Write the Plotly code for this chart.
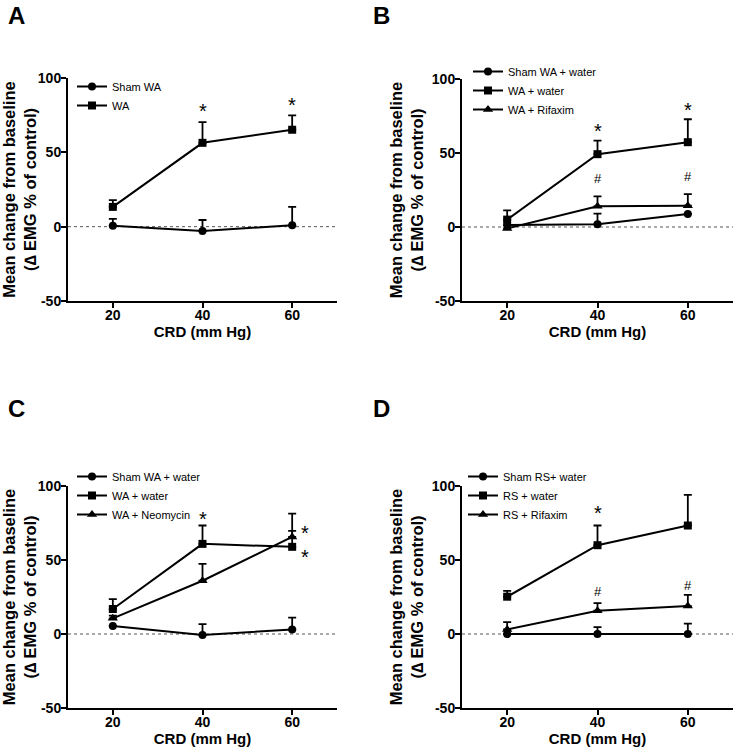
import plotly.graph_objects as go

crd = [20, 40, 60]

# panel A
a_names = ["Sham WA", "WA"]
a_sham = [0.7, -2.9, 0.9]
a_sham_err = [4.5, 7.4, 12.4]
a_wa = [13.3, 56.4, 65.2]
a_wa_err = [4.5, 13.9, 9.6]
a_marks = [(40, 78, "*"), (60, 82, "*")]

# panel B
b_names = ["Sham WA + water", "WA + water", "WA + Rifaxim"]
b_sham = [1.3, 1.8, 8.8]
b_sham_err = [0, 7.2, 0]
b_wa = [5.0, 49.2, 57.3]
b_wa_err = [6.2, 9.2, 15.5]
b_rif = [-1.0, 14.0, 14.4]
b_rif_err = [0, 6.7, 7.8]
b_marks = [(40, 65, "*"), (60, 79, "*"), (40, 33, "#"), (60, 34, "#")]

# panel C
c_names = ["Sham WA + water", "WA + water", "WA + Neomycin"]
c_sham = [5.4, -0.7, 3.1]
c_sham_err = [0, 7.4, 7.9]
c_wa = [16.9, 60.9, 58.9]
c_wa_err = [6.7, 12.4, 10.8]
c_neo = [10.6, 36.0, 65.6]
c_neo_err = [1.8, 11.4, 15.7]
c_marks = [(40, 78, "*"), (62.8, 68, "*"), (62.8, 52, "*")]

# panel D
d_names = ["Sham RS+ water", "RS + water", "RS + Rifaxim"]
d_sham = [0, 0, 0]
d_sham_err = [0, 4.7, 7.0]
d_rs = [25.2, 60.0, 73.3]
d_rs_err = [4.0, 13.3, 20.7]
d_rif = [3.1, 15.7, 18.9]
d_rif_err = [4.9, 5.2, 7.6]
d_marks = [(40, 82, "*"), (60, 101, "*"), (40, 29, "#"), (60, 33, "#")]

FONT = "Liberation Sans, Arial, sans-serif"
symbols = ["circle", "square", "triangle-up"]

panels = [
    ("A", a_names, [a_sham, a_wa], [a_sham_err, a_wa_err], a_marks),
    ("B", b_names, [b_sham, b_wa, b_rif], [b_sham_err, b_wa_err, b_rif_err], b_marks),
    ("C", c_names, [c_sham, c_wa, c_neo], [c_sham_err, c_wa_err, c_neo_err], c_marks),
    ("D", d_names, [d_sham, d_rs, d_rif], [d_sham_err, d_rs_err, d_rif_err], d_marks),
]

W, H = 735, 750
# pixel boxes of the plot areas: left, right, top, bottom
boxes = [(68, 337, 78, 301), (462, 733, 79, 301), (68, 337, 486, 708), (462, 733, 486, 708)]
letters_px = [(6, 0), (371, 0), (6, 393), (371, 393)]
legend_px = [(72, 72), (468, 57), (72, 462), (463, 462)]

fig = go.Figure()
layout = {}
for i, (letter, names, series, errs, marks) in enumerate(panels):
    n = "" if i == 0 else str(i + 1)
    xa, ya = "x" + n, "y" + n
    leg = "legend" + n
    l, r, t, b = boxes[i]
    for j, (nm, ys, es) in enumerate(zip(names, series, errs)):
        fig.add_trace(go.Scatter(
            x=crd, y=ys, name=nm, mode="lines+markers", xaxis=xa, yaxis=ya, legend=leg,
            line=dict(color="black", width=2),
            marker=dict(symbol=symbols[j], size=8 if j < 2 else 9, color="black"),
            error_y=dict(type="data", symmetric=False, array=es, arrayminus=[0] * 3,
                         color="black", thickness=1.8, width=4),
        ))
    for (mx, my, txt) in marks:
        fig.add_annotation(x=mx, y=my, text=txt, xref=xa, yref=ya, showarrow=False,
                           font=dict(family=FONT, size=20 if txt == "*" else 13, color="black"))
    fig.add_shape(type="line", x0=10, x1=70, y0=0, y1=0, xref=xa, yref=ya,
                  line=dict(color="#555", width=1, dash="dot"), layer="below")
    lx, ly = letters_px[i]
    fig.add_annotation(x=lx / W, y=1 - ly / H, xref="paper", yref="paper",
                       text="<b>" + letter + "</b>", showarrow=False, xanchor="left",
                       yanchor="top", font=dict(family=FONT, size=24, color="black"))
    axcommon = dict(showgrid=False, zeroline=False, showline=True, linecolor="black",
                    linewidth=2, ticks="outside", ticklen=5, tickwidth=2, tickcolor="black",
                    automargin=False,
                    tickfont=dict(family=FONT, size=14, color="black"))
    layout["xaxis" + n] = dict(axcommon, domain=[l / W, r / W], range=[10, 70],
                               tickvals=crd, ticktext=["<b>20</b>", "<b>40</b>", "<b>60</b>"],
                               anchor=ya, ticklabelstandoff=-5,
                               title=dict(text="<b>CRD (mm Hg)</b>", standoff=0,
                                          font=dict(family=FONT, size=15, color="black")))
    layout["yaxis" + n] = dict(axcommon, domain=[1 - b / H, 1 - t / H], range=[-50, 100],
                               tickvals=[-50, 0, 50, 100],
                               ticktext=["<b>-50</b>", "<b>0</b>", "<b>50</b>", "<b>100</b>"],
                               anchor=xa, ticklabelstandoff=-3,
                               title=dict(text="<b>Mean change from baseline<br>(\u2206 EMG % of control)</b>",
                                          standoff=4,
                                          font=dict(family=FONT, size=16.5, color="black")))
    gx, gy = legend_px[i]
    layout[leg] = dict(x=gx / W, y=1 - gy / H,
                       xanchor="left", yanchor="top", bgcolor="rgba(0,0,0,0)",
                       font=dict(family=FONT, size=11, color="black"),
                       tracegroupgap=0, itemwidth=30)

fig.update_layout(**layout)
fig.update_layout(width=W, height=H, margin=dict(l=0, r=0, t=0, b=0, autoexpand=False),
                  plot_bgcolor="white", paper_bgcolor="white", showlegend=True)
fig.write_html("out.html", config={"displayModeBar": False},
               post_script="document.body.style.margin='0';")
